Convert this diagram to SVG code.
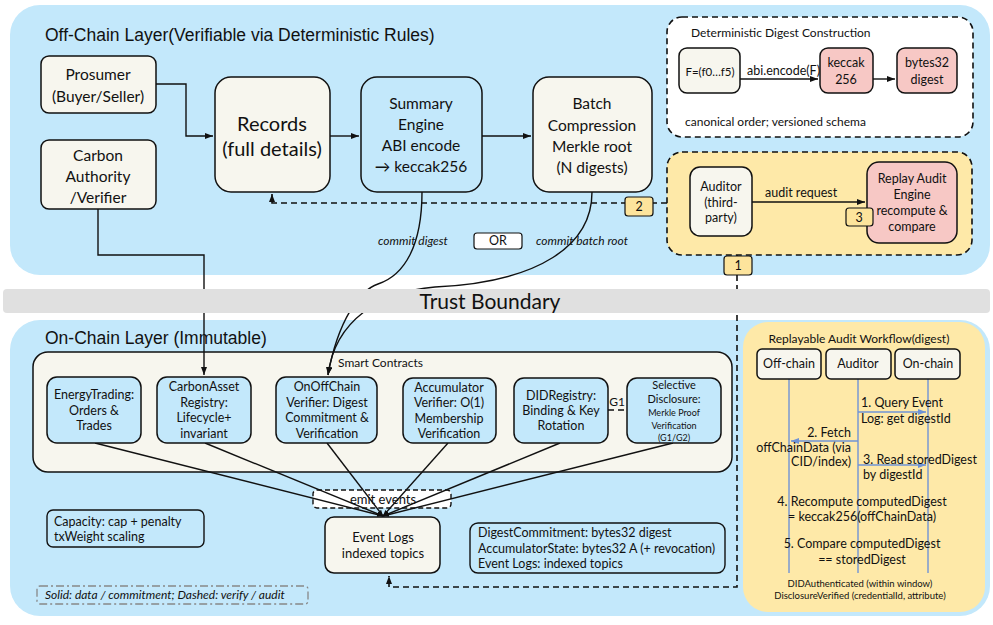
<svg xmlns="http://www.w3.org/2000/svg" width="993" height="625" viewBox="0 0 993 625">
<defs>
<style>
.panel{fill:#c3e8fb}
.cream{fill:#f7f6ee;stroke:#111;stroke-width:1.5}
.blue{fill:#c3e8fb;stroke:#111;stroke-width:1.5}
.pink{fill:#f7c8c5;stroke:#111;stroke-width:1.5}
.badge{fill:#fde49c;stroke:#111;stroke-width:1.2}
.edge{fill:none;stroke:#111;stroke-width:1.4}
.dash{fill:none;stroke:#111;stroke-width:1.6;stroke-dasharray:6 4}
.seq{fill:none;stroke:#6f93d6;stroke-width:1.4}
text{font-family:Lato,"Liberation Sans",sans-serif;fill:#111}
.t{font-size:15.5px;text-anchor:middle}
.s{font-size:12.5px;text-anchor:middle}
.h{font-family:"Liberation Sans",Arial,sans-serif;font-size:17.5px}
.it{font-style:italic;font-size:12px}
</style>
<marker id="ah" viewBox="0 0 8 6" refX="8" refY="3" markerWidth="8" markerHeight="6" markerUnits="userSpaceOnUse" orient="auto"><path d="M0,0 L8,3 L0,6 z" fill="#111"/></marker>
<marker id="ahs" viewBox="0 0 8 6" refX="8" refY="3" markerWidth="6" markerHeight="5" markerUnits="userSpaceOnUse" orient="auto"><path d="M0,0 L8,3 L0,6 z" fill="#111"/></marker>
<marker id="ahb" viewBox="0 0 8 6" refX="8" refY="3" markerWidth="8" markerHeight="6" markerUnits="userSpaceOnUse" orient="auto"><path d="M0,0 L8,3 L0,6 z" fill="#6f93d6"/></marker>
</defs>

<!-- layers -->
<g id="offchain-layer">
<rect class="panel" x="10" y="5" width="980" height="270" rx="30"/>
<text class="h" x="45" y="41">Off-Chain Layer(Verifiable via Deterministic Rules)</text>
</g>
<g id="onchain-layer">
<rect class="panel" x="10" y="320" width="980" height="296" rx="30"/>
<text class="h" x="45" y="344">On-Chain Layer (Immutable)</text>
</g>

<g id="digest-construction">
<rect x="667" y="17" width="306" height="120" rx="15" fill="#fff" stroke="#111" stroke-width="1.6" stroke-dasharray="6 4"/>
<text x="691" y="37" font-size="12">Deterministic Digest Construction</text>
<text x="685" y="126" font-size="12">canonical order; versioned schema</text>
</g>
<g id="audit-zone">
<rect x="667" y="152" width="305" height="103" rx="15" fill="#fee9a8" stroke="#111" stroke-width="1.6" stroke-dasharray="6 4"/>
</g>
<g id="workflow-panel">
<rect x="743" y="322" width="242" height="290" rx="25" fill="#fee9a8"/>
<text x="859" y="343" font-size="12" text-anchor="middle">Replayable Audit Workflow(digest)</text>
</g>
<g id="smart-contracts">
<rect x="33" y="352" width="699" height="120" rx="15" fill="#f7f6ee" stroke="#111" stroke-width="1.5"/>
<text x="338" y="367" font-size="12">Smart Contracts</text>
</g>
<g id="emit-events">
<rect x="313" y="490" width="138" height="18" rx="4" fill="#fff" stroke="#111" stroke-width="1.4" stroke-dasharray="5 3"/>
<text x="383" y="504" font-size="13" text-anchor="middle">emit events</text>
</g>

<!-- connectors -->
<g id="connectors">
<path class="edge" d="M156,84 H186 V136 H213" marker-end="url(#ah)"/>
<path class="edge" d="M330,136 H359" marker-end="url(#ah)"/>
<path class="edge" d="M482,136 H531" marker-end="url(#ah)"/>
<path class="edge" d="M422,192 C422,245 405,275 378,284 C360,290 338,320 328,375" marker-end="url(#ah)"/>
<path class="edge" d="M592,192 C592,245 540,282 435,287 C380,292 335,320 328,375" marker-end="url(#ah)"/>
<path class="edge" d="M98,209 V255 H204 V375" marker-end="url(#ah)"/>
<path class="dash" d="M667,203 H272 V194" marker-end="url(#ah)"/>
<path class="dash" d="M737,255 V587 H389 V576" marker-end="url(#ah)"/>
<path class="edge" d="M740,79 H818" marker-end="url(#ah)"/>
<path class="edge" d="M873,79 H895" marker-end="url(#ah)"/>
<path class="edge" d="M752,202 H865" marker-end="url(#ah)"/>
<path class="dash" d="M608,410 H627" stroke-dasharray="3 2"/>
<text x="617" y="406" font-size="12" text-anchor="middle">G1</text>
<path class="edge" d="M95,443 L383,516" marker-end="url(#ahs)"/>
<path class="edge" d="M205,443 L383,516" marker-end="url(#ahs)"/>
<path class="edge" d="M327,443 L383,516" marker-end="url(#ahs)"/>
<path class="edge" d="M448,443 L383,516" marker-end="url(#ahs)"/>
<path class="edge" d="M560,443 L383,516" marker-end="url(#ahs)"/>
<path class="edge" d="M673,443 L383,516" marker-end="url(#ahs)"/>
<text class="it" x="378" y="245">commit digest</text>
<text class="it" x="536" y="245">commit batch root</text>
<text x="765" y="197" font-size="12.5">audit request</text>
<text x="747" y="75" font-size="12.5">abi.encode(F)</text>
<line class="seq" x1="789" y1="379" x2="789" y2="573"/>
<line class="seq" x1="858" y1="379" x2="858" y2="573"/>
<line class="seq" x1="928" y1="379" x2="928" y2="573"/>
<path class="seq" d="M858,412 H926" marker-end="url(#ahb)"/>
<path class="seq" d="M858,441 H791" marker-end="url(#ahb)"/>
<path class="seq" d="M858,465 H926" marker-end="url(#ahb)"/>
</g>

<g id="trust-boundary">
<rect x="3" y="289" width="987" height="24" rx="4" fill="#e0e0e0"/>
<text x="490" y="309" font-size="21" text-anchor="middle">Trust Boundary</text>
</g>

<!-- off-chain nodes -->
<g id="prosumer"><rect class="cream" x="41" y="56" width="115" height="57" rx="8"/>
<text class="t" x="98" y="80">Prosumer</text><text class="t" x="98" y="102">(Buyer/Seller)</text></g>
<g id="carbon-authority"><rect class="cream" x="41" y="140" width="115" height="69" rx="8"/>
<text class="t" x="98" y="161">Carbon</text><text class="t" x="98" y="182">Authority</text><text class="t" x="98" y="203">/Verifier</text></g>
<g id="records"><rect class="cream" x="215" y="77" width="115" height="115" rx="16"/>
<text x="272" y="131" font-size="20" text-anchor="middle">Records</text><text x="272" y="156" font-size="20" text-anchor="middle">(full details)</text></g>
<g id="summary-engine"><rect class="blue" x="361" y="77" width="121" height="115" rx="16"/>
<text class="t" x="421" y="109">Summary</text><text class="t" x="421" y="130">Engine</text><text class="t" x="421" y="151">ABI encode</text><text class="t" x="421" y="172">→ keccak256</text></g>
<g id="batch-compression"><rect class="cream" x="533" y="77" width="119" height="115" rx="16"/>
<text class="t" x="592" y="109">Batch</text><text class="t" x="592" y="131">Compression</text><text class="t" x="592" y="152">Merkle root</text><text class="t" x="592" y="173">(N digests)</text></g>
<g id="or-label"><rect x="474" y="233" width="48" height="16" rx="3" fill="#fff" stroke="#111" stroke-width="1.2"/>
<text class="s" x="498" y="245">OR</text></g>

<g id="f-fields"><rect class="cream" x="679" y="48" width="61" height="45" rx="8"/>
<text x="710" y="76" font-size="11.5" text-anchor="middle">F=(f0…f5)</text></g>
<g id="keccak"><rect class="pink" x="820" y="48" width="53" height="45" rx="8"/>
<text class="s" x="846" y="67" font-size="13">keccak</text><text class="s" x="846" y="84" font-size="13">256</text></g>
<g id="bytes32"><rect class="pink" x="897" y="48" width="60" height="45" rx="8"/>
<text class="s" x="927" y="67" font-size="13">bytes32</text><text class="s" x="927" y="84" font-size="13">digest</text></g>

<g id="auditor"><rect class="cream" x="690" y="167" width="62" height="69" rx="10"/>
<text class="s" x="721" y="191">Auditor</text><text class="s" x="721" y="207">(third-</text><text class="s" x="721" y="222">party)</text></g>
<g id="replay-engine"><rect class="pink" x="867" y="162" width="90" height="81" rx="12"/>
<text class="s" x="912" y="183">Replay Audit</text><text class="s" x="912" y="199">Engine</text><text class="s" x="912" y="215">recompute &amp;</text><text class="s" x="912" y="231">compare</text></g>

<g id="badge-1"><rect class="badge" x="724" y="256" width="28" height="19" rx="3"/><text class="s" x="738" y="270">1</text></g>
<g id="badge-2"><rect class="badge" x="625" y="197" width="28" height="19" rx="3"/><text class="s" x="639" y="211">2</text></g>
<g id="badge-3"><rect class="badge" x="846" y="208" width="27" height="18" rx="3"/><text class="s" x="859" y="222">3</text></g>

<!-- on-chain nodes -->
<g id="energy-trading"><rect class="blue" x="47" y="377" width="94" height="66" rx="10"/>
<text class="s" x="94" y="399">EnergyTrading:</text><text class="s" x="94" y="415">Orders &amp;</text><text class="s" x="94" y="430">Trades</text></g>
<g id="carbon-asset"><rect class="blue" x="157" y="377" width="94" height="66" rx="10"/>
<text class="s" x="204" y="391">CarbonAsset</text><text class="s" x="204" y="407">Registry:</text><text class="s" x="204" y="422">Lifecycle+</text><text class="s" x="204" y="438">invariant</text></g>
<g id="onoffchain-verifier"><rect class="blue" x="276" y="377" width="101" height="66" rx="10"/>
<text class="s" x="327" y="391">OnOffChain</text><text class="s" x="327" y="407">Verifier: Digest</text><text class="s" x="327" y="422">Commitment &amp;</text><text class="s" x="327" y="438">Verification</text></g>
<g id="accumulator-verifier"><rect class="blue" x="403" y="378" width="93" height="65" rx="10"/>
<text class="s" x="449" y="392">Accumulator</text><text class="s" x="449" y="407">Verifier: O(1)</text><text class="s" x="449" y="423">Membership</text><text class="s" x="449" y="438">Verification</text></g>
<g id="did-registry"><rect class="blue" x="514" y="378" width="94" height="65" rx="10"/>
<text class="s" x="561" y="400">DIDRegistry:</text><text class="s" x="561" y="415">Binding &amp; Key</text><text class="s" x="561" y="430">Rotation</text></g>
<g id="selective-disclosure"><rect class="blue" x="627" y="378" width="94" height="65" rx="10"/>
<text x="674" y="389" font-size="11" text-anchor="middle">Selective</text><text x="674" y="403" font-size="11" text-anchor="middle">Disclosure:</text><text x="674" y="416" font-size="9" text-anchor="middle">Merkle Proof</text><text x="674" y="428.5" font-size="9" text-anchor="middle">Verification</text><text x="674" y="441" font-size="9" text-anchor="middle">(G1/G2)</text></g>

<g id="event-logs"><rect class="cream" x="325" y="517" width="115" height="56" rx="9"/>
<text x="383" y="542" font-size="13" text-anchor="middle">Event Logs</text><text x="383" y="558" font-size="13" text-anchor="middle">indexed topics</text></g>
<g id="capacity"><rect x="47" y="510" width="157" height="37" rx="6" fill="none" stroke="#111" stroke-width="1.4"/>
<text x="54" y="526" font-size="12.5">Capacity: cap + penalty</text><text x="54" y="541" font-size="12.5">txWeight scaling</text></g>
<g id="state-summary"><rect x="470" y="523" width="255" height="50" rx="8" fill="none" stroke="#111" stroke-width="1.4"/>
<text x="478" y="537" font-size="12.5">DigestCommitment: bytes32 digest</text><text x="478" y="553" font-size="12.5">AccumulatorState: bytes32 A (+ revocation)</text><text x="478" y="568" font-size="12.5">Event Logs: indexed topics</text></g>
<g id="legend"><rect x="37" y="586" width="271" height="18" rx="3" fill="none" stroke="#888" stroke-width="1.3" stroke-dasharray="8 3 2 3"/>
<text x="45" y="599" font-size="12" font-style="italic">Solid: data / commitment; Dashed: verify / audit</text></g>

<!-- workflow -->
<g id="lane-offchain"><rect class="cream" x="757" y="349" width="64" height="30" rx="5"/><text class="s" x="789" y="368">Off-chain</text></g>
<g id="lane-auditor"><rect class="cream" x="826" y="349" width="65" height="30" rx="5"/><text class="s" x="858" y="368">Auditor</text></g>
<g id="lane-onchain"><rect class="cream" x="895" y="349" width="65" height="30" rx="5"/><text class="s" x="928" y="368">On-chain</text></g>
<g id="workflow-steps">
<text x="861" y="407" font-size="12.5">1. Query Event</text>
<text x="861" y="423" font-size="12.5">Log: get digestId</text>
<text x="851" y="437" font-size="12.5" text-anchor="end">2. Fetch</text>
<text x="851" y="452" font-size="12.5" text-anchor="end">offChainData (via</text>
<text x="851" y="466" font-size="12.5" text-anchor="end">CID/index)</text>
<text x="863" y="464" font-size="12.5">3. Read storedDigest</text>
<text x="863" y="479" font-size="12.5">by digestId</text>
<text x="862" y="506" font-size="12.5" text-anchor="middle">4. Recompute computedDigest</text>
<text x="862" y="521" font-size="12.5" text-anchor="middle">= keccak256(offChainData)</text>
<text x="862" y="548" font-size="12.5" text-anchor="middle">5. Compare computedDigest</text>
<text x="862" y="564" font-size="12.5" text-anchor="middle">== storedDigest</text>
<text x="860" y="587" font-size="9.5" text-anchor="middle">DIDAuthenticated (within window)</text>
<text x="860" y="599" font-size="9.5" text-anchor="middle">DisclosureVerified (credentialId, attribute)</text>
</g>
</svg>
